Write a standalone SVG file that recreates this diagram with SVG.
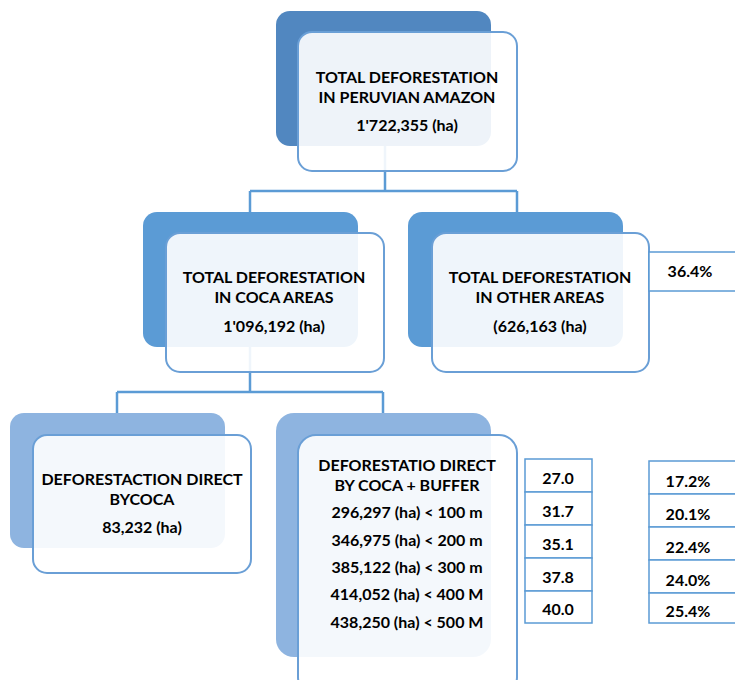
<svg xmlns="http://www.w3.org/2000/svg" width="735" height="680" viewBox="0 0 735 680">
<style>
text{font-family:Lato,"Liberation Sans",Arial,sans-serif;font-weight:bold;font-size:16px;fill:#000;text-anchor:middle}
.back1{fill:#5187c0}
.back2{fill:#5b9bd5}
.back3{fill:#8eb4e0}
.front{fill:#fff;fill-opacity:0.9;stroke:#6a9fd6;stroke-width:2}
.conn{fill:none;stroke:#5b9bd5;stroke-width:2.5}
.cell{fill:#fff;stroke:#5b9bd5;stroke-width:1.5}
</style>
<rect width="735" height="680" fill="#fff"/>
<g id="connectors">
<path class="conn" d="M385 146V191M250 191H517M250 191V212M517 191V212"/>
<path class="conn" d="M250 347V392M117 392H383M117 392V413M383 392V413"/>
</g>
<g id="n-top">
<rect class="back1" x="276" y="11" width="215" height="135" rx="14"/>
<rect class="front" x="298" y="32" width="219" height="139" rx="14"/>
<text x="407" y="83">TOTAL DEFORESTATION</text>
<text x="407" y="103">IN PERUVIAN AMAZON</text>
<text x="407" y="131">1'722,355 (ha)</text>
</g>
<g id="n-coca">
<rect class="back2" x="143" y="212" width="215" height="135" rx="14"/>
<rect class="front" x="166" y="233" width="218" height="139" rx="14"/>
<text x="274" y="283">TOTAL DEFORESTATION</text>
<text x="274" y="303">IN COCA AREAS</text>
<text x="274" y="332">1'096,192 (ha)</text>
</g>
<g id="n-other">
<rect class="back2" x="408" y="212" width="215" height="135" rx="14"/>
<rect class="front" x="432" y="233" width="217" height="139" rx="14"/>
<text x="540" y="283">TOTAL DEFORESTATION</text>
<text x="540" y="303">IN OTHER AREAS</text>
<text x="540" y="332">(626,163 (ha)</text>
</g>
<g id="n-pct-other">
<rect class="cell" x="649" y="252" width="90" height="39"/>
<text x="690" y="277">36.4%</text>
</g>
<g id="n-direct">
<rect class="back3" x="10" y="413" width="215" height="135" rx="14"/>
<rect class="front" x="33" y="435" width="218" height="138" rx="14"/>
<text x="142" y="485">DEFORESTACTION DIRECT</text>
<text x="142" y="505">BYCOCA</text>
<text x="142" y="533">83,232 (ha)</text>
</g>
<g id="n-buffer">
<rect class="back3" x="276" y="413" width="215" height="244" rx="18"/>
<rect class="front" x="298" y="435" width="219" height="260" rx="18"/>
<text x="407" y="471">DEFORESTATIO DIRECT</text>
<text x="407" y="491">BY COCA + BUFFER</text>
<text x="407" y="518">296,297 (ha) &lt; 100 m</text>
<text x="407" y="546">346,975 (ha) &lt; 200 m</text>
<text x="407" y="573">385,122 (ha) &lt; 300 m</text>
<text x="407" y="600">414,052 (ha) &lt; 400 M</text>
<text x="407" y="628">438,250 (ha) &lt; 500 M</text>
</g>
<g id="n-table1">
<rect class="cell" x="525" y="459" width="67" height="33"/>
<rect class="cell" x="525" y="492" width="67" height="33"/>
<rect class="cell" x="525" y="525" width="67" height="33"/>
<rect class="cell" x="525" y="558" width="67" height="33"/>
<rect class="cell" x="525" y="591" width="67" height="32"/>
<text x="558" y="484">27.0</text>
<text x="558" y="517">31.7</text>
<text x="558" y="550">35.1</text>
<text x="558" y="583">37.8</text>
<text x="558" y="615">40.0</text>
</g>
<g id="n-table2">
<rect class="cell" x="649" y="461" width="90" height="33"/>
<rect class="cell" x="649" y="494" width="90" height="33"/>
<rect class="cell" x="649" y="527" width="90" height="33"/>
<rect class="cell" x="649" y="560" width="90" height="33"/>
<rect class="cell" x="649" y="593" width="90" height="30"/>
<text x="688" y="487">17.2%</text>
<text x="688" y="520">20.1%</text>
<text x="688" y="553">22.4%</text>
<text x="688" y="586">24.0%</text>
<text x="688" y="617">25.4%</text>
</g>
</svg>
